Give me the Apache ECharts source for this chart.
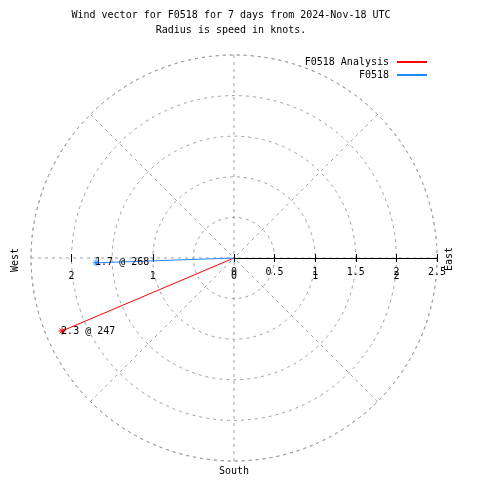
<!DOCTYPE html>
<html>
<head>
<meta charset="utf-8">
<script src="https://cdn.jsdelivr.net/npm/echarts@6/dist/echarts.min.js"></script>
<style>html,body{margin:0;padding:0;background:#fff}#c{width:480px;height:480px}</style>
</head>
<body>
<div id="c"></div>
<script>
// ---- data ----
const seriesNames = ['F0518 Analysis', 'F0518'];
const analysisSpeed = [2.3];
const analysisDir = [247];
const obsSpeed = [1.7];
const obsDir = [268];
const radialTicks = [0, 0.5, 1, 1.5, 2, 2.5];
const crossTicks = [-2, -1, 0, 1, 2];
const compassLabels = { 90: 'East', 180: 'South', 270: 'West' };
const titleLines = ['Wind vector for F0518 for 7 days from 2024-Nov-18 UTC', 'Radius is speed in knots.'];

const FONT = 'DejaVu Sans Mono';
const GRAY = '#a0a0a0';
const RED = '#ff0000';
const BLUE = '#1e88ff';
const CX = 234, CY = 258, R = 203;
const ASTER = 'path://M0,5L10,5M5,0L5,10M1.5,1.5L8.5,8.5M8.5,1.5L1.5,8.5';
const DASH = [3, 4];

function vectorSeries(name, speeds, dirs, color) {
  const data = [];
  speeds.forEach((s, i) => {
    data.push({ value: [0, dirs[i]], symbol: 'none', label: { show: false } });
    data.push({ value: [s, dirs[i]] });
  });
  return {
    type: 'line', name: name, coordinateSystem: 'polar', polarIndex: 0,
    data: data, symbol: ASTER, symbolSize: 7, showAllSymbol: true, z: 5,
    lineStyle: { color: color, width: 1 },
    itemStyle: { color: color, borderColor: color, borderWidth: 1 },
    label: {
      show: true, position: 'right', distance: -5,
      color: '#000', fontFamily: FONT, fontSize: 10,
      formatter: p => p.value[0] + ' @ ' + p.value[1]
    },
    emphasis: { disabled: true }, animation: false
  };
}

const legendBase = {
  right: 53, align: 'right', icon: 'rect', itemWidth: 30, itemHeight: 2, padding: 0,
  itemStyle: { borderWidth: 0 },
  textStyle: { fontFamily: FONT, fontSize: 10, color: '#000', padding: [0, 3, 0, 0] }, selectedMode: false
};

const chart = echarts.init(document.getElementById('c'));
chart.setOption({
  animation: false,
  backgroundColor: '#fff',
  title: {
    text: titleLines.join('\n'), left: 231, top: 8, padding: 0, textAlign: 'center',
    textStyle: { fontFamily: FONT, fontSize: 10, fontWeight: 'normal', color: '#000', lineHeight: 15 }
  },
  legend: [
    Object.assign({ data: [seriesNames[0]], top: 57 }, legendBase),
    Object.assign({ data: [seriesNames[1]], top: 70 }, legendBase)
  ],
  polar: [{ center: [CX, CY], radius: R }],
  angleAxis: {
    polarIndex: 0, type: 'value', min: 0, max: 360, interval: 45, startAngle: 90, clockwise: true,
    axisLine: { show: true, lineStyle: { color: GRAY, type: DASH, width: 1 } },
    axisTick: { show: false },
    splitLine: { show: true, lineStyle: { color: GRAY, type: DASH, width: 1 } },
    axisLabel: {
      margin: 5, color: '#000', fontFamily: FONT, fontSize: 10,
      formatter: v => (v === 180 ? compassLabels[180] : '')
    }
  },
  radiusAxis: {
    polarIndex: 0, type: 'value', min: 0, max: 2.5, interval: 0.5,
    axisLine: { show: false }, axisTick: { show: false }, axisLabel: { show: false },
    splitLine: { show: true, lineStyle: { color: GRAY, type: DASH, width: 1 } }
  },
  grid: [
    { left: CX - R, top: CY - R, width: 2 * R, height: R },
    { left: CX, top: CY - R, width: R, height: R }
  ],
  xAxis: [
    { gridIndex: 0, type: 'value', position: 'bottom', offset: 0, min: -2.5, max: 2.5, axisLine: { show: false },
      splitLine: { show: false },
      axisTick: { show: true, length: 4, customValues: crossTicks, lineStyle: { color: '#000' } },
      axisLabel: { show: true, margin: 13, customValues: crossTicks, color: '#000', fontFamily: FONT, fontSize: 10,
        formatter: v => String(Math.abs(v)) } },
    { gridIndex: 0, type: 'value', position: 'bottom', offset: 0, min: -2.5, max: 2.5, axisLine: { show: false }, splitLine: { show: false },
      axisTick: { show: true, inside: true, length: 4, customValues: crossTicks, lineStyle: { color: '#000' } },
      axisLabel: { show: false } },
    { gridIndex: 1, type: 'value', position: 'bottom', offset: 0, min: 0, max: 2.5, interval: 0.5,
      axisLine: { show: true, lineStyle: { color: '#000', width: 1 } }, splitLine: { show: false },
      axisTick: { show: true, length: 4, customValues: radialTicks, lineStyle: { color: '#000' } },
      axisLabel: { show: true, margin: 9, customValues: radialTicks, color: '#000', fontFamily: FONT, fontSize: 10 } },
    { gridIndex: 1, type: 'value', position: 'bottom', offset: 0, min: 0, max: 2.5, interval: 0.5,
      axisLine: { show: false }, splitLine: { show: false },
      axisTick: { show: true, inside: true, length: 4, customValues: radialTicks, lineStyle: { color: '#000' } },
      axisLabel: { show: false } }
  ],
  yAxis: [
    { gridIndex: 0, type: 'value', show: false },
    { gridIndex: 1, type: 'value', show: false }
  ],
  graphic: [
    { type: 'text', x: 449, y: 259, rotation: Math.PI / 2,
      style: { text: compassLabels[90], fontFamily: FONT, fontSize: 10, fill: '#000', align: 'center', verticalAlign: 'middle' } },
    { type: 'text', x: 15, y: 260, rotation: Math.PI / 2,
      style: { text: compassLabels[270], fontFamily: FONT, fontSize: 10, fill: '#000', align: 'center', verticalAlign: 'middle' } }
  ],
  series: [
    vectorSeries(seriesNames[0], analysisSpeed, analysisDir, RED),
    vectorSeries(seriesNames[1], obsSpeed, obsDir, BLUE)
  ]
});
</script>
</body>
</html>
